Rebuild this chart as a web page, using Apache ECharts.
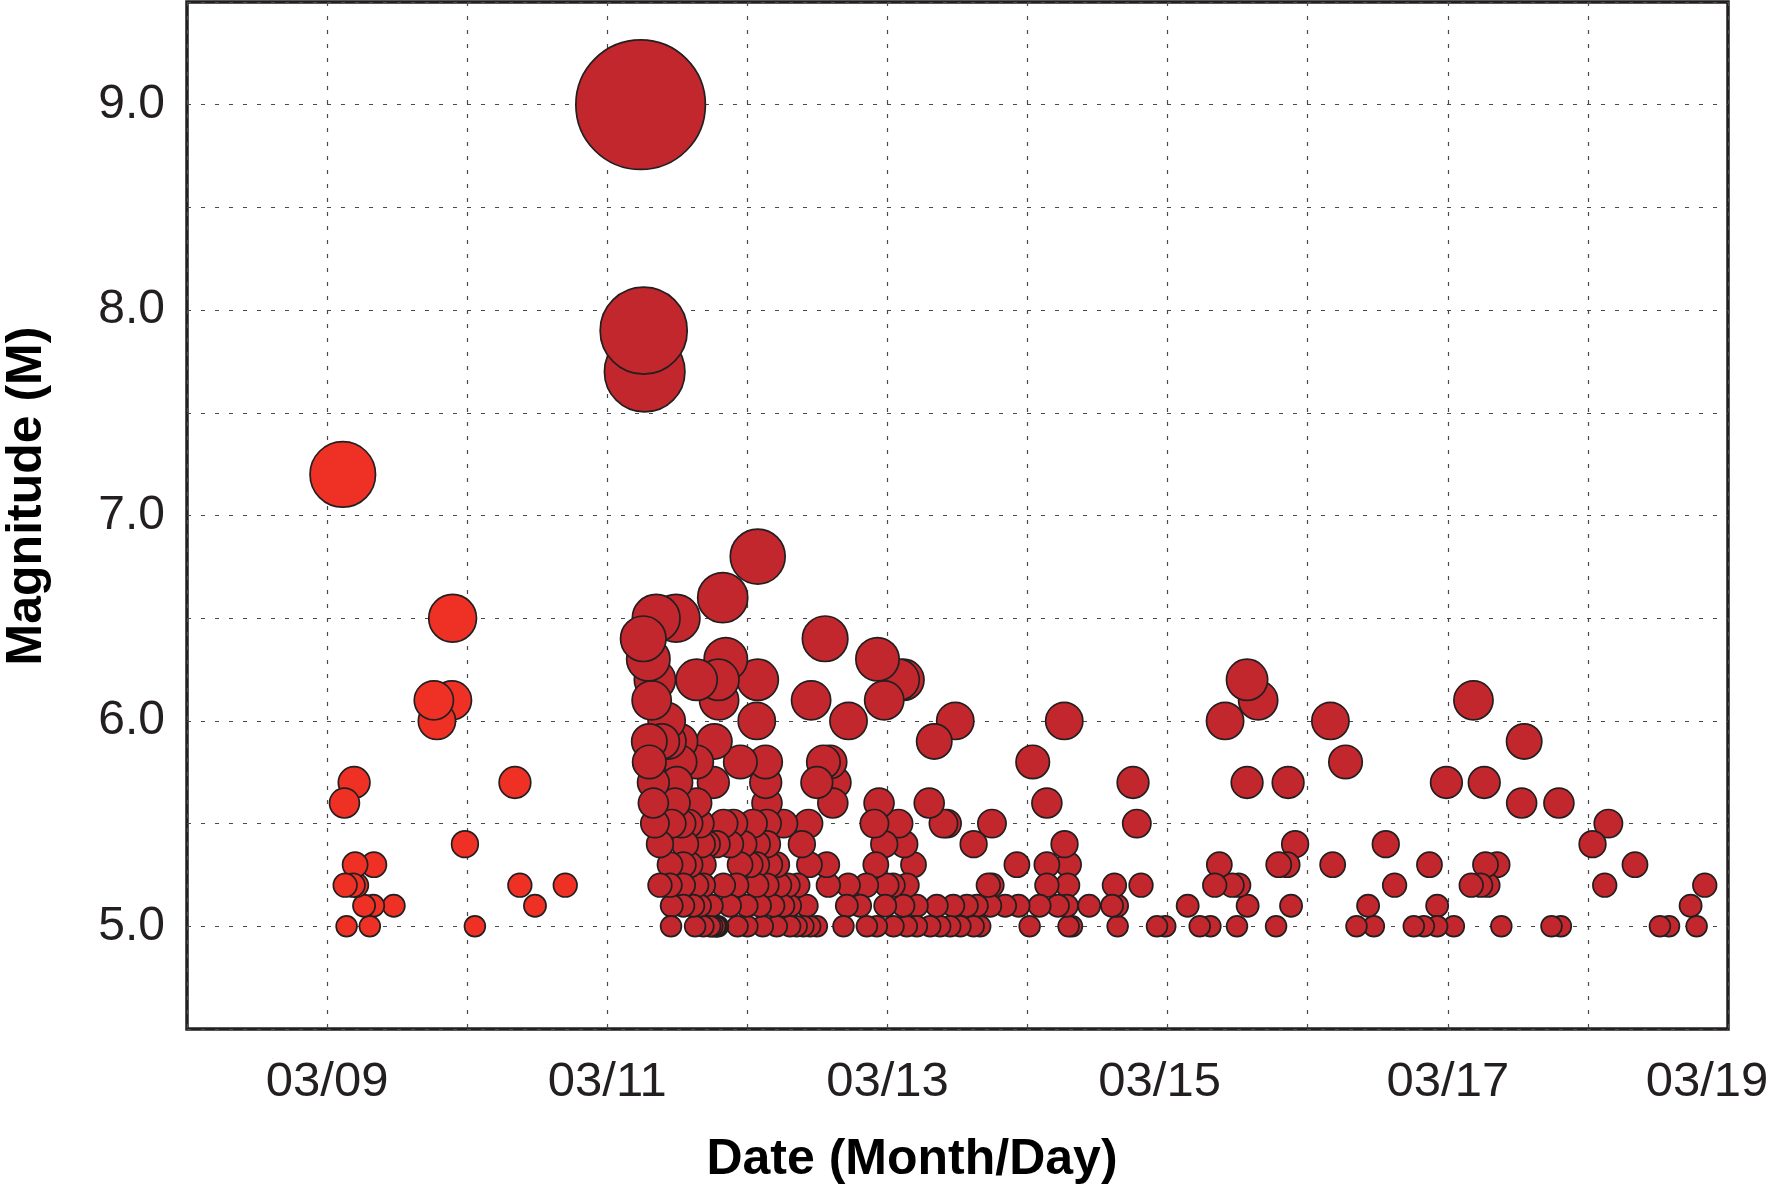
<!DOCTYPE html>
<html>
<head>
<meta charset="utf-8">
<script src="https://cdn.jsdelivr.net/npm/echarts@6/dist/echarts.min.js"></script>
<style>
html,body{margin:0;padding:0;background:#fff;}
#chart{width:1777px;height:1186px;}
</style>
</head>
<body>
<div id="chart"></div>
<script>
// x = day of March 2011 (UTC, fractional), y = magnitude
const xLabelDays = [9, 11, 13, 15, 17, 19];
const xTickLabels = ['03/09', '03/11', '03/13', '03/15', '03/17', '03/19'];
const yLabelValues = [5, 6, 7, 8, 9];
const yTickLabels = ['5.0', '6.0', '7.0', '8.0', '9.0'];

// Foreshocks (before the mainshock)
const foreshocks = [
  [9.112, 7.2], [9.124, 5.6], [9.129, 5.2], [9.139, 5.0], [9.186, 5.2], [9.193, 5.7],
  [9.200, 5.3], [9.210, 5.2], [9.264, 5.1], [9.305, 5.0], [9.329, 5.1], [9.334, 5.3],
  [9.476, 5.1], [9.762, 6.1], [9.784, 6.0], [9.891, 6.1], [9.896, 6.5], [9.984, 5.4],
  [10.055, 5.0], [10.341, 5.7], [10.376, 5.2], [10.484, 5.1], [10.700, 5.2]
];

// Mainshock and aftershocks: magnitude rows, days listed per magnitude
const mainshocks = [[11.238, 9.0], [11.260, 7.9], [11.267, 7.7]];
const aftershockDays = {
  '6.8': [12.074],
  '6.6': [11.824],
  '6.5': [11.349, 11.491],
  '6.4': [11.257, 12.555],
  '6.3': [11.293, 11.846, 12.929],
  '6.2': [11.340, 11.638, 11.793, 12.074, 13.080, 13.114, 15.567],
  '6.1': [11.317, 11.798, 12.455, 12.977, 15.646, 17.183],
  '6.0': [11.424, 12.067, 12.722, 13.484, 14.262, 15.410, 16.162],
  '5.9': [11.300, 11.389, 11.436, 11.519, 11.764, 13.334, 17.545],
  '5.8': [11.300, 11.519, 11.638, 11.950, 12.130, 12.543, 12.590, 14.037, 16.270],
  '5.7': [11.329, 11.496, 11.757, 12.131, 12.496, 12.626, 14.753, 15.567, 15.860, 16.990, 17.260],
  '5.6': [11.329, 11.484, 11.638, 12.140, 12.610, 12.940, 13.298, 14.138, 17.527, 17.793],
  '5.5': [11.340, 11.460, 11.530, 11.580, 11.660, 11.830, 11.900, 12.040, 12.140, 12.257, 12.436,
          12.907, 13.079, 13.400, 13.425, 13.746, 14.780, 18.146],
  '5.4': [11.376, 11.555, 11.674, 11.710, 11.780, 11.876, 11.971, 12.067, 12.140, 12.389, 12.977,
          13.120, 13.615, 14.264, 15.910, 16.557, 18.033],
  '5.3': [11.448, 11.543, 11.591, 11.686, 11.948, 12.020, 12.067, 12.160, 12.210, 12.443, 12.567,
          12.917, 13.186, 13.924, 14.138, 14.293, 15.369, 15.793, 15.853, 16.178, 16.869, 17.269,
          17.352, 18.336],
  '5.2': [11.376, 11.448, 11.543, 11.638, 11.686, 11.829, 11.924, 12.067, 12.140, 12.230, 12.290,
          12.360, 12.578, 12.720, 12.850, 12.996, 13.040, 13.140, 13.720, 13.746, 14.138, 14.286,
          14.620, 14.810, 15.336, 15.460, 15.507, 16.620, 17.167, 17.234, 17.286, 18.120, 18.834],
  '5.1': [11.460, 11.543, 11.614, 11.662, 11.746, 11.876, 11.995, 12.090, 12.186, 12.257, 12.305,
          12.424, 12.710, 12.805, 12.984, 13.114, 13.210, 13.352, 13.470, 13.567, 13.638, 13.734,
          13.840, 13.936, 14.086, 14.217, 14.281, 14.440, 14.603, 14.639, 15.143, 15.571, 15.881,
          16.431, 16.924, 18.733],
  '5.0': [11.455, 11.627, 11.686, 11.734, 11.750, 11.770, 11.780, 11.790, 11.930, 12.000, 12.110,
          12.210, 12.305, 12.352, 12.400, 12.448, 12.496, 12.686, 12.853, 12.924, 13.043, 13.138,
          13.210, 13.305, 13.376, 13.448, 13.520, 13.615, 13.662, 14.015, 14.293, 14.317, 14.643,
          14.924, 14.983, 15.229, 15.305, 15.495, 15.774, 16.348, 16.472, 16.757, 16.829, 16.924,
          17.043, 17.382, 17.740, 17.807, 18.514, 18.579, 18.776]
};

const aftershocks = mainshocks.slice();
Object.keys(aftershockDays).forEach(function (m) {
  aftershockDays[m].forEach(function (d) { aftershocks.push([d, parseFloat(m)]); });
});
// draw latest first so earlier events sit on top
function latestFirst(arr) { return arr.slice().sort(function (a, b) { return b[0] - a[0]; }); }

const chart = echarts.init(document.getElementById('chart'), null, { renderer: 'canvas' });
const sizeFn = function (v) { return 0.18 * Math.pow(v[1], 3) - 1.7; };
const fontFam = '"Liberation Sans", Arial, Helvetica, sans-serif';

chart.setOption({
  animation: false,
  backgroundColor: '#ffffff',
  grid: {
    left: 187, right: 49, top: 2, bottom: 157,
    show: true, borderColor: '#231F20', borderWidth: 3.5, backgroundColor: '#ffffff'
  },
  xAxis: {
    type: 'value', min: 8, max: 19, interval: 1,
    axisLine: { show: false }, axisTick: { show: false },
    splitLine: { show: true, lineStyle: { color: '#4a4a4a', width: 1.2, type: [4, 10] } },
    axisLabel: {
      margin: 29, fontSize: 49, color: '#231F20', fontFamily: fontFam,
      showMinLabel: true, showMaxLabel: true,
      formatter: function (v) {
        const r = Math.round(v);
        if (Math.abs(v - r) > 1e-6) return '';
        const i = xLabelDays.indexOf(r);
        if (i < 0) return '';
        if (r === 19) return '{s21|' + xTickLabels[i] + '}';
        if (r === 15) return '{s8|' + xTickLabels[i] + '}';
        return xTickLabels[i];
      },
      rich: {
        s21: { fontSize: 49, color: '#231F20', fontFamily: fontFam, padding: [0, 42, 0, 0] },
        s8: { fontSize: 49, color: '#231F20', fontFamily: fontFam, padding: [0, 16, 0, 0] }
      }
    }
  },
  yAxis: {
    type: 'value', min: 4.5, max: 9.5, interval: 0.5,
    axisLine: { show: false }, axisTick: { show: false },
    splitLine: { show: true, lineStyle: { color: '#4a4a4a', width: 1.2, type: [4, 10] } },
    axisLabel: {
      margin: 22, fontSize: 48, color: '#231F20', fontFamily: fontFam,
      formatter: function (v) {
        for (let i = 0; i < yLabelValues.length; i++) {
          if (Math.abs(v - yLabelValues[i]) < 1e-6) return yTickLabels[i];
        }
        return '';
      }
    }
  },
  series: [
    {
      name: 'Foreshocks', type: 'scatter', data: latestFirst(foreshocks),
      symbol: 'circle', symbolSize: sizeFn,
      itemStyle: { color: '#EE3124', borderColor: '#231F20', borderWidth: 1.7, opacity: 1 },
      emphasis: { disabled: true }, silent: true
    },
    {
      name: 'Mainshock and aftershocks', type: 'scatter', data: latestFirst(aftershocks),
      symbol: 'circle', symbolSize: sizeFn,
      itemStyle: { color: '#C1272D', borderColor: '#231F20', borderWidth: 1.7, opacity: 1 },
      emphasis: { disabled: true }, silent: true
    }
  ],
  graphic: [
    {
      type: 'text', x: 27, y: 496, rotation: Math.PI / 2,
      style: {
        text: 'Magnitude (M)', fill: '#000000', align: 'center', verticalAlign: 'middle',
        font: 'bold 50px ' + fontFam
      }
    },
    {
      type: 'text', x: 912, y: 1160,
      style: {
        text: 'Date (Month/Day)', fill: '#000000', align: 'center', verticalAlign: 'middle',
        font: 'bold 50px ' + fontFam
      }
    }
  ]
});
</script>
</body>
</html>
